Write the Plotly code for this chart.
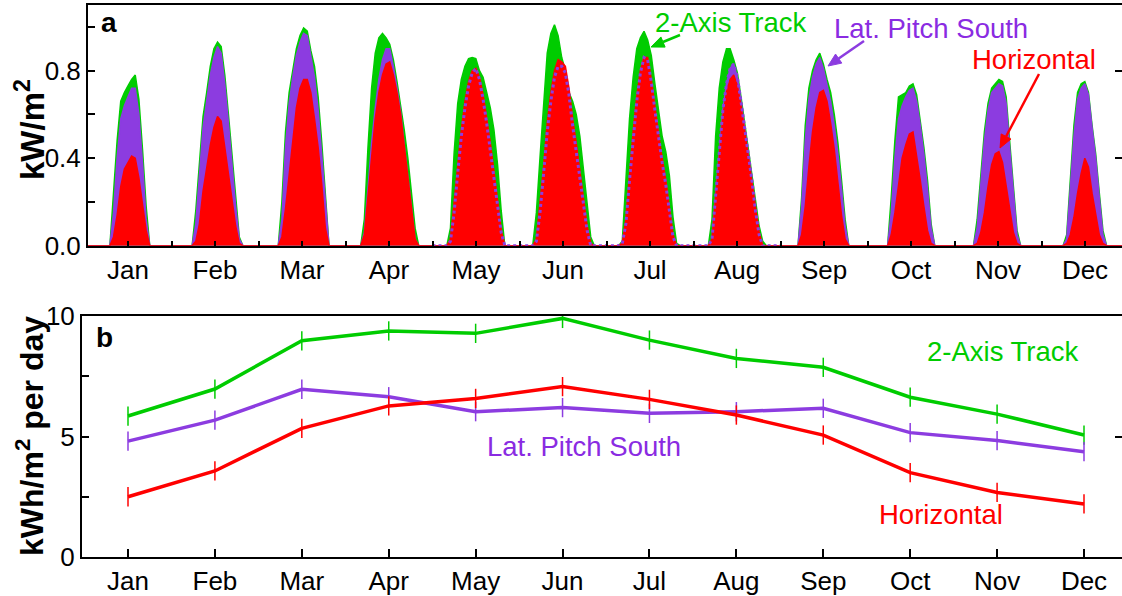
import math
import plotly.graph_objects as go

# ---------------- data ----------------
months = ["Jan", "Feb", "Mar", "Apr", "May", "Jun", "Jul", "Aug", "Sep", "Oct", "Nov", "Dec"]

# panel a: typical-day hourly irradiance (kW/m^2), one list per month, starting at day_start hour
day_start = [7.0, 5.7, 5.45, 4.2, 3.95, 3.65, 3.35, 4.1, 4.83, 5.55, 5.25, 5.95]

track_2axis = [
    [0, 0.24, 0.48, 0.66, 0.70, 0.73, 0.76, 0.78, 0.67, 0.44, 0.18, 0],
    [0, 0.16, 0.38, 0.59, 0.70, 0.82, 0.90, 0.93, 0.91, 0.78, 0.60, 0.40, 0.20, 0.04, 0],
    [0, 0.20, 0.52, 0.70, 0.81, 0.90, 0.96, 0.995, 0.98, 0.89, 0.82, 0.68, 0.47, 0.22, 0],
    [0, 0.12, 0.45, 0.72, 0.88, 0.95, 0.97, 0.95, 0.92, 0.85, 0.75, 0.65, 0.53, 0.40, 0.24, 0.08, 0],
    [0, 0.08, 0.42, 0.65, 0.76, 0.82, 0.855, 0.86, 0.855, 0.80, 0.77, 0.70, 0.63, 0.53, 0.37, 0.16, 0],
    [0, 0.15, 0.40, 0.66, 0.88, 0.97, 1.01, 0.96, 0.86, 0.80, 0.70, 0.66, 0.60, 0.50, 0.35, 0.18, 0.04, 0],
    [0, 0.02, 0.33, 0.58, 0.77, 0.90, 0.95, 0.98, 0.94, 0.87, 0.74, 0.62, 0.50, 0.43, 0.32, 0.13, 0.01, 0],
    [0, 0.12, 0.50, 0.72, 0.84, 0.90, 0.90, 0.85, 0.79, 0.68, 0.56, 0.45, 0.33, 0.20, 0.09, 0.02, 0],
    [0, 0.22, 0.55, 0.72, 0.80, 0.85, 0.88, 0.83, 0.76, 0.70, 0.60, 0.47, 0.30, 0.12, 0],
    [0, 0.22, 0.48, 0.68, 0.69, 0.70, 0.73, 0.74, 0.69, 0.58, 0.45, 0.30, 0.10, 0],
    [0, 0.12, 0.33, 0.52, 0.65, 0.72, 0.74, 0.76, 0.75, 0.68, 0.47, 0.28, 0.07, 0],
    [0, 0.05, 0.30, 0.55, 0.70, 0.74, 0.75, 0.70, 0.55, 0.42, 0.24, 0.07, 0],
]
lat_pitch_south = [
    [0, 0.15, 0.40, 0.58, 0.64, 0.68, 0.72, 0.72, 0.60, 0.38, 0.12, 0],
    [0, 0.10, 0.32, 0.54, 0.66, 0.78, 0.86, 0.91, 0.88, 0.74, 0.56, 0.37, 0.18, 0.03, 0],
    [0, 0.12, 0.45, 0.65, 0.77, 0.87, 0.93, 0.97, 0.96, 0.86, 0.77, 0.62, 0.42, 0.18, 0],
    [0, 0.06, 0.26, 0.47, 0.63, 0.76, 0.85, 0.90, 0.90, 0.82, 0.72, 0.61, 0.46, 0.31, 0.16, 0.03, 0],
    [0, 0.02, 0.15, 0.33, 0.50, 0.63, 0.73, 0.79, 0.81, 0.76, 0.67, 0.56, 0.44, 0.31, 0.18, 0.06, 0],
    [0, 0.02, 0.15, 0.33, 0.52, 0.66, 0.77, 0.82, 0.82, 0.79, 0.69, 0.55, 0.43, 0.31, 0.19, 0.07, 0, 0],
    [0, 0.01, 0.10, 0.30, 0.50, 0.66, 0.79, 0.86, 0.85, 0.75, 0.62, 0.49, 0.38, 0.28, 0.15, 0.04, 0, 0],
    [0, 0.03, 0.24, 0.45, 0.62, 0.74, 0.81, 0.83, 0.77, 0.66, 0.53, 0.42, 0.30, 0.16, 0.05, 0, 0],
    [0, 0.18, 0.48, 0.67, 0.77, 0.83, 0.86, 0.81, 0.73, 0.66, 0.55, 0.42, 0.26, 0.09, 0],
    [0, 0.15, 0.40, 0.58, 0.64, 0.68, 0.71, 0.72, 0.66, 0.55, 0.42, 0.26, 0.08, 0],
    [0, 0.08, 0.28, 0.48, 0.62, 0.70, 0.72, 0.74, 0.73, 0.65, 0.44, 0.25, 0.05, 0],
    [0, 0.03, 0.25, 0.50, 0.67, 0.72, 0.74, 0.69, 0.54, 0.40, 0.22, 0.05, 0],
]
horizontal = [
    [0, 0.04, 0.14, 0.27, 0.35, 0.38, 0.41, 0.40, 0.31, 0.19, 0.07, 0],
    [0, 0.02, 0.10, 0.25, 0.36, 0.46, 0.54, 0.59, 0.57, 0.45, 0.33, 0.20, 0.09, 0.01, 0],
    [0, 0.04, 0.17, 0.33, 0.50, 0.63, 0.72, 0.76, 0.76, 0.70, 0.58, 0.45, 0.28, 0.08, 0],
    [0, 0.05, 0.22, 0.42, 0.58, 0.70, 0.78, 0.83, 0.84, 0.78, 0.70, 0.60, 0.45, 0.30, 0.15, 0.03, 0],
    [0, 0.03, 0.18, 0.36, 0.53, 0.66, 0.75, 0.80, 0.81, 0.77, 0.69, 0.59, 0.47, 0.34, 0.20, 0.07, 0],
    [0, 0.03, 0.18, 0.36, 0.56, 0.70, 0.80, 0.85, 0.84, 0.82, 0.72, 0.58, 0.47, 0.34, 0.22, 0.09, 0.01, 0],
    [0, 0.01, 0.12, 0.33, 0.52, 0.68, 0.80, 0.86, 0.86, 0.76, 0.63, 0.51, 0.40, 0.30, 0.17, 0.05, 0, 0],
    [0, 0.03, 0.22, 0.43, 0.59, 0.70, 0.76, 0.78, 0.73, 0.64, 0.52, 0.42, 0.30, 0.17, 0.06, 0, 0],
    [0, 0.05, 0.18, 0.36, 0.52, 0.63, 0.70, 0.71, 0.66, 0.56, 0.44, 0.29, 0.14, 0.03, 0],
    [0, 0.05, 0.15, 0.27, 0.40, 0.46, 0.51, 0.52, 0.42, 0.30, 0.18, 0.07, 0.01, 0],
    [0, 0.01, 0.06, 0.15, 0.27, 0.37, 0.42, 0.43, 0.38, 0.28, 0.16, 0.06, 0.01, 0],
    [0, 0.01, 0.05, 0.13, 0.24, 0.33, 0.40, 0.36, 0.24, 0.14, 0.05, 0.01, 0],
]

# panel b: monthly mean daily insolation (kWh/m^2 per day) and error bars
daily_track = [5.85, 6.97, 8.97, 9.38, 9.28, 9.9, 9.0, 8.24, 7.87, 6.63, 5.93, 5.06]
daily_lat = [4.81, 5.68, 6.96, 6.65, 6.03, 6.2, 5.96, 6.03, 6.17, 5.16, 4.83, 4.37]
daily_horiz = [2.5, 3.57, 5.34, 6.27, 6.58, 7.07, 6.54, 5.89, 5.06, 3.5, 2.68, 2.2]
err_track = [0.4, 0.4, 0.4, 0.4, 0.4, 0.4, 0.4, 0.4, 0.4, 0.4, 0.4, 0.4]
err_lat = [0.4, 0.4, 0.4, 0.4, 0.4, 0.4, 0.4, 0.4, 0.4, 0.4, 0.4, 0.4]
err_horiz = [0.4, 0.4, 0.4, 0.4, 0.4, 0.4, 0.4, 0.4, 0.4, 0.4, 0.4, 0.4]

GREEN = "#00CC00"
PURPLE = "#8C3CE0"
PURPLE_TXT = "#8A2BE2"
RED = "#FF0000"
FONT = "Liberation Sans, Arial, sans-serif"
W, H = 1122, 596


def hourly(series):
    xs, ys = [0], [0]
    for m, vals in enumerate(series):
        for i, v in enumerate(vals):
            xs.append(24 * m + day_start[m] + i)
            ys.append(v)
    xs.append(288)
    ys.append(0)
    return xs, ys


fig = go.Figure()

for series, col in [(track_2axis, GREEN), (lat_pitch_south, PURPLE), (horizontal, RED)]:
    xs, ys = hourly(series)
    fig.add_trace(go.Scatter(x=xs, y=ys, mode="lines", fill="tozeroy", fillcolor=col,
                             line=dict(color=col, width=1.5), xaxis="x", yaxis="y",
                             showlegend=False, hoverinfo="skip"))

# dotted outline of the lat. pitch south profile for May-Aug (where it lies under horizontal)
xs, ys = hourly(lat_pitch_south)
dx = [x for x in xs if 96 <= x <= 192]
dy = [y for x, y in zip(xs, ys) if 96 <= x <= 192]
dx = [96] + dx + [192]
dy = [0] + dy + [0]
fig.add_trace(go.Scatter(x=dx, y=dy, mode="lines", line=dict(color=PURPLE, width=3, dash="dot"),
                         xaxis="x", yaxis="y", showlegend=False, hoverinfo="skip"))

# panel b
mx = list(range(1, 13))
for vals, errs, col in [(daily_track, err_track, GREEN), (daily_lat, err_lat, PURPLE),
                        (daily_horiz, err_horiz, RED)]:
    fig.add_trace(go.Scatter(x=mx, y=vals, mode="lines", line=dict(color=col, width=3.5),
                             error_y=dict(type="data", array=errs, visible=True, color=col,
                                          thickness=1.5, width=0),
                             xaxis="x2", yaxis="y2", showlegend=False, hoverinfo="skip"))

# dummy traces to anchor right-side tick axes
fig.add_trace(go.Scatter(x=[None], y=[None], xaxis="x", yaxis="y3", showlegend=False))
fig.add_trace(go.Scatter(x=[None], y=[None], xaxis="x2", yaxis="y4", showlegend=False))


def px_x(p):
    return p / W


def px_y(p):
    return 1 - p / H


tick_font = dict(family=FONT, size=26, color="black")

xa_range = [(88 - 84.5) / 3.625, (1122 - 84.5) / 3.625]
xb_range = [1 - 46 / 86.9, 12 + 38 / 86.9]

common = dict(showgrid=False, zeroline=False, automargin=False)

fig.update_layout(
    width=W, height=H,
    margin=dict(l=0, r=0, t=0, b=0, pad=0),
    paper_bgcolor="white", plot_bgcolor="white",
    font=dict(family=FONT, size=26, color="black"),
    xaxis=dict(domain=[px_x(88), 1.0], range=xa_range, anchor="y",
               tickvals=[12 + 24 * k for k in range(12)], ticktext=months,
               ticks="inside", ticklen=5, tickwidth=1.5, tickcolor="black",
               minor=dict(tickvals=[24 * k for k in range(13)], ticks="inside", ticklen=5,
                          tickwidth=1.5, tickcolor="black"),
               showline=True, linewidth=2, linecolor="black", mirror=True,
               tickfont=tick_font, **common),
    yaxis=dict(domain=[px_y(245.7), px_y(5)], range=[0, 1.10], anchor="x",
               tickvals=[0, 0.4, 0.8], ticktext=["0.0", "0.4", "0.8"],
               ticks="inside", ticklen=7, tickwidth=1.5, tickcolor="black",
               minor=dict(tickvals=[0.2, 0.6, 1.0], ticks="inside", ticklen=7,
                          tickwidth=1.5, tickcolor="black"),
               showline=True, linewidth=2, linecolor="black",
               tickfont=tick_font, **common),
    yaxis3=dict(overlaying="y", side="right", anchor="x", range=[0, 1.10],
                tickvals=[0, 0.4, 0.8], ticks="inside", ticklen=7, tickwidth=1.5,
                tickcolor="black", showticklabels=False, showline=False, **common),
    xaxis2=dict(domain=[px_x(82), 1.0], range=xb_range, anchor="y2",
                tickvals=mx, ticktext=months,
                ticks="inside", ticklen=8, tickwidth=1.5, tickcolor="black",
                showline=True, linewidth=2, linecolor="black", mirror=True,
                tickfont=tick_font, **common),
    yaxis2=dict(domain=[px_y(557), px_y(316)], range=[0, 10], anchor="x2",
                tickvals=[0, 5, 10],
                ticks="inside", ticklen=7, tickwidth=1.5, tickcolor="black",
                minor=dict(tickvals=[2.5, 7.5], ticks="inside", ticklen=7,
                           tickwidth=1.5, tickcolor="black"),
                showline=True, linewidth=2, linecolor="black",
                tickfont=tick_font, **common),
    yaxis4=dict(overlaying="y2", side="right", anchor="x2", range=[0, 10],
                tickvals=[0, 5, 10], ticks="inside", ticklen=7, tickwidth=1.5,
                tickcolor="black", showticklabels=False, showline=False, **common),
)

ann = []


def text_at(px, py, txt, col, size=27.5, bold=False, angle=0):
    t = f"<b>{txt}</b>" if bold else txt
    ann.append(dict(xref="paper", yref="paper", x=px_x(px), y=px_y(py), text=t,
                    showarrow=False, xanchor="center", yanchor="middle", textangle=angle,
                    font=dict(family=FONT, size=size, color=col)))


# panel labels and axis titles
text_at(109, 22, "a", "black", size=28, bold=True)
text_at(104, 337, "b", "black", size=28, bold=True)
text_at(30, 130, "kW/m<sup>2</sup>", "black", size=33, bold=True, angle=-90)
text_at(30, 436, "kWh/m<sup>2</sup> per day", "black", size=32, bold=True, angle=-90)

# panel a labels
text_at(731, 22, "2-Axis Track", GREEN)
text_at(931, 28, "Lat. Pitch South", PURPLE_TXT)
text_at(1034, 60, "Horizontal", RED)

# panel b labels
text_at(1003, 351, "2-Axis Track", GREEN)
text_at(584, 446, "Lat. Pitch South", PURPLE_TXT)
text_at(941, 514, "Horizontal", RED)

fig.update_layout(annotations=ann)

# arrows as shapes (shaft + filled head), pixel positions -> paper
shapes = []


def arrow(tx, ty, hx, hy, col, head_len=13, head_w=5.5):
    ang = math.atan2(hy - ty, hx - tx)
    bx = hx - head_len * math.cos(ang)
    by = hy - head_len * math.sin(ang)
    nx, ny = -math.sin(ang), math.cos(ang)
    shapes.append(dict(type="line", xref="paper", yref="paper",
                       x0=px_x(tx), y0=px_y(ty), x1=px_x(bx), y1=px_y(by),
                       line=dict(color=col, width=2.5)))
    p1 = (px_x(hx), px_y(hy))
    p2 = (px_x(bx + head_w * nx), px_y(by + head_w * ny))
    p3 = (px_x(bx - head_w * nx), px_y(by - head_w * ny))
    path = f"M {p1[0]},{p1[1]} L {p2[0]},{p2[1]} L {p3[0]},{p3[1]} Z"
    shapes.append(dict(type="path", xref="paper", yref="paper", path=path,
                       fillcolor=col, line=dict(color=col, width=1)))


arrow(680, 35, 651, 47, GREEN)
arrow(864, 41, 828, 66, PURPLE)
arrow(1039, 74, 1000, 148, RED)

fig.update_layout(shapes=shapes)

fig.write_html("out.html")
